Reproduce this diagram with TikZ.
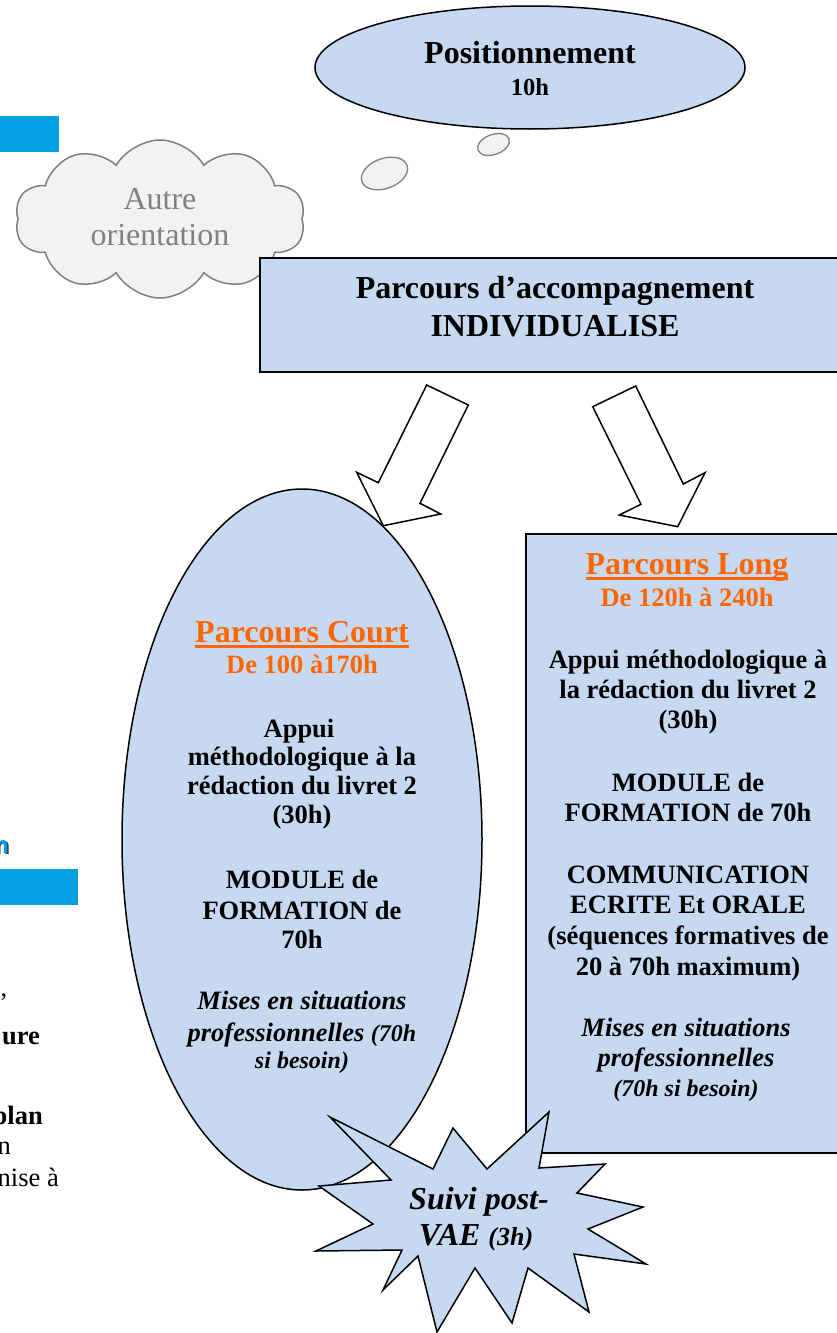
\documentclass[tikz,border=0pt]{standalone}
\usepackage{fontspec}
\setmainfont{Liberation Serif}
\setsansfont{Liberation Sans}
\usetikzlibrary{shapes.geometric,shapes.symbols}
\definecolor{blu}{RGB}{198,217,241}
\definecolor{orng}{RGB}{255,102,0}
\definecolor{cyanbar}{RGB}{0,160,227}
\definecolor{cloudfill}{RGB}{242,242,242}
\definecolor{cloudline}{RGB}{128,128,128}
\definecolor{graytxt}{RGB}{128,128,128}
\definecolor{shadowc}{RGB}{40,60,90}
\newcommand{\ulin}[1]{\setbox0\hbox{#1}\rlap{\rule[-6pt]{\wd0}{2.6pt}}\box0}
\tikzset{
  blueshape/.style={fill=blu, draw=black, line width=1.5pt},
  boxshape/.style={fill=blu, draw=black, line width=2pt, rectangle, inner sep=0pt, anchor=north west},
  arrowshape/.style={fill=white, draw=black, line width=1.5pt, line join=miter},
  bubble/.style={ellipse, fill=cloudfill, draw=cloudline, line width=1.3pt, inner sep=0pt, rotate=20},
  bigtxt/.style={font=\fontsize{32}{36}\selectfont\bfseries, anchor=base, inner sep=0pt},
  bodytxt/.style={font=\fontsize{26.5}{30}\selectfont\bfseries, anchor=base, inner sep=0pt},
  ittxt/.style={font=\fontsize{26.5}{30}\selectfont\bfseries\itshape, anchor=base, inner sep=0pt},
  smallit/.style={font=\fontsize{24}{28}\selectfont\bfseries\itshape, anchor=base, inner sep=0pt},
  ortitle/.style={font=\fontsize{32}{36}\selectfont\bfseries, text=orng, anchor=base, inner sep=0pt},
  orsub/.style={font=\fontsize{26.5}{30}\selectfont\bfseries, text=orng, anchor=base, inner sep=0pt},
  leftb/.style={font=\fontsize{26.5}{30}\selectfont\bfseries, anchor=base east, inner sep=0pt},
  leftr/.style={font=\fontsize{26.5}{30}\selectfont, anchor=base east, inner sep=0pt},
  cloudtxt/.style={font=\fontsize{32}{36}\selectfont, text=graytxt, anchor=base, inner sep=0pt},
}
\begin{document}
\begin{tikzpicture}[x=1pt,y=-1pt]
\useasboundingbox (0,0) rectangle (837,1333);
\clip (0,0) rectangle (837,1333);
% left fragments
\fill[cyanbar] (0,116) rectangle (59,152);
\fill[cyanbar] (0,869) rectangle (78,905);
\node[font=\sffamily\bfseries\fontsize{24}{24}\selectfont, text=shadowc, anchor=base east, inner sep=0pt] (nsh) at (10.5,854.5) {n};
\node[font=\sffamily\bfseries\fontsize{24}{24}\selectfont, text=cyanbar, anchor=base east, inner sep=0pt] (ncy) at (9,853) {n};
\node[leftr] (f1) at (7.5,996) {,};
\node[leftb] (f2) at (40,1044) {ure};
\node[leftb] (f3) at (43,1124) {plan};
\node[leftr] (f4) at (11,1154) {n};
\node[leftr] (f5) at (59,1186) {nise à};
% cloud
\node[cloud, cloud puffs=10, cloud puff arc=120, aspect=1.84, fill=cloudfill, draw=cloudline, line width=1.5pt, minimum width=290pt, minimum height=158pt, inner sep=0pt] (cl) at (160,219) {};
\node[cloudtxt] (cl1) at (160,209) {Autre};
\node[cloudtxt] (cl2) at (160,245) {orientation};
% thought bubbles
\node[bubble, minimum width=33pt, minimum height=20pt] (b1) at (493.5,144.5) {};
\node[bubble, minimum width=48pt, minimum height=30pt] (b2) at (384.5,173.5) {};
% positionnement
\node[ellipse, blueshape, minimum width=430pt, minimum height=123pt, inner sep=0pt] (pos) at (530,67.5) {};
\node[bigtxt] (pos1) at (530,63) {Positionnement};
\node[font=\fontsize{24.5}{28}\selectfont\bfseries, anchor=base, inner sep=0pt] (pos2) at (530,95) {10h};
% main box
\node[boxshape, minimum width=600pt, minimum height=114pt] (acc) at (259,257) {};
\node[bigtxt] (acc1) at (555,298) {Parcours d’accompagnement};
\node[bigtxt] (acc2) at (555,336) {INDIVIDUALISE};
% parcours court
\node[ellipse, blueshape, minimum width=360pt, minimum height=701pt, inner sep=0pt] (court) at (302,839.5) {};
\node[ortitle] (c1) at (302,642) {\ulin{Parcours Court}};
\node[orsub] (c2) at (302,673) {De 100 à170h};
\node[bodytxt] (c3) at (299,737) {Appui};
\node[bodytxt] (c4) at (302,765) {méthodologique à la};
\node[bodytxt] (c5) at (302,794) {rédaction du livret 2};
\node[bodytxt] (c6) at (302,823) {(30h)};
\node[bodytxt] (c7) at (302,888) {MODULE de};
\node[bodytxt] (c8) at (302,919) {FORMATION de};
\node[bodytxt] (c9) at (302,948) {70h};
\node[ittxt] (c10) at (302,1009) {Mises en situations};
\node[ittxt] (c11) at (302,1041) {professionnelles {\fontsize{24}{28}\selectfont(70h}};
\node[smallit] (c12) at (302,1068) {si besoin)};
% parcours long
\node[boxshape, minimum width=330pt, minimum height=619pt] (long) at (525,533) {};
\node[ortitle] (l1) at (687,574) {\ulin{Parcours Long}};
\node[orsub] (l2) at (687,606) {De 120h à 240h};
\node[bodytxt] (l3) at (688,668) {Appui méthodologique à};
\node[bodytxt] (l4) at (688,698) {la rédaction du livret 2};
\node[bodytxt] (l5) at (688,728) {(30h)};
\node[bodytxt] (l6) at (688,791) {MODULE de};
\node[bodytxt] (l7) at (688,821) {FORMATION de 70h};
\node[bodytxt] (l8) at (688,883) {COMMUNICATION};
\node[bodytxt] (l9) at (688,913) {ECRITE Et ORALE};
\node[bodytxt] (l10) at (688,944) {(séquences formatives de};
\node[bodytxt] (l11) at (688,975) {20 à 70h maximum)};
\node[ittxt] (l12) at (686,1036) {Mises en situations};
\node[ittxt] (l13) at (686,1066) {professionnelles};
\node[smallit] (l14) at (686,1096) {(70h si besoin)};
% block arrows
\draw[arrowshape] (426.7,385) -- (468.3,405) -- (420,503.3) -- (440.7,514) -- (383.3,525.7) -- (356.7,472.3) -- (378.3,482.7) -- cycle;
\draw[arrowshape] (592.7,406.7) -- (635.7,386) -- (683.3,484) -- (705,472.7) -- (677.7,526.7) -- (619.3,515) -- (641,504.3) -- cycle;
% explosion
\draw[blueshape, line join=miter] (433,1169) -- (453,1128) -- (487,1169) -- (549,1112) -- (539,1168) -- (605,1164) -- (577,1193) -- (643,1207) -- (588,1229) -- (646,1264) -- (574,1254) -- (589,1312) -- (528,1268) -- (512,1323) -- (475,1268) -- (437,1332) -- (418,1256) -- (383,1290) -- (402,1250) -- (316,1251) -- (373,1224) -- (319,1186) -- (391,1180) -- (330,1117) -- cycle;
\node[font=\fontsize{32}{36}\selectfont\bfseries\itshape, anchor=base, inner sep=0pt] (s1) at (479,1209) {Suivi post-};
\node[font=\fontsize{32}{36}\selectfont\bfseries\itshape, anchor=base, inner sep=0pt] (s2) at (476,1245) {VAE {\fontsize{26}{30}\selectfont(3h)}};
\end{tikzpicture}
\end{document}
